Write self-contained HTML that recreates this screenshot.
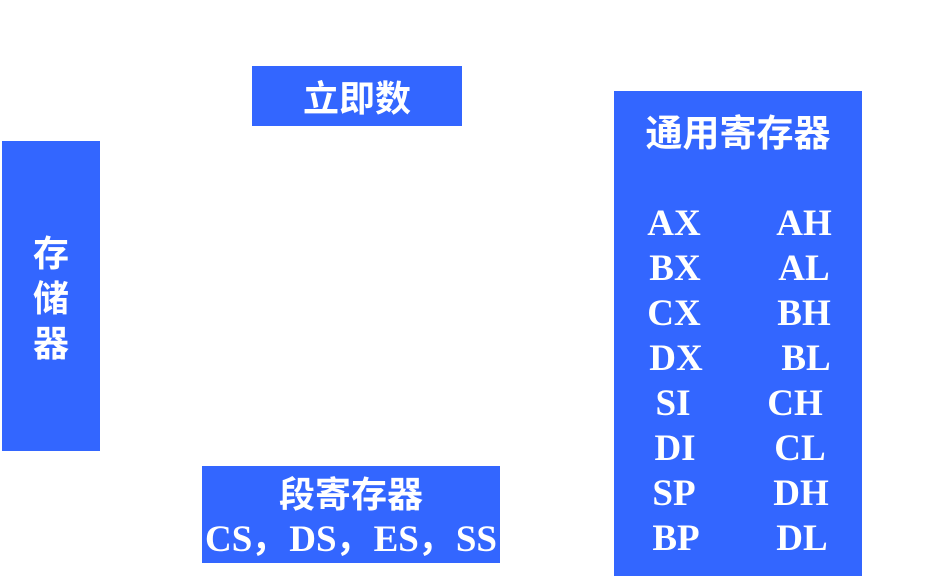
<!DOCTYPE html>
<html><head><meta charset="utf-8"><style>
html,body{margin:0;padding:0;background:#fff;}
svg{display:block;}
.c{font-family:"Liberation Sans","Noto Sans CJK SC","WenQuanYi Zen Hei",sans-serif;font-weight:bold;fill:#fff;}
.s{font-family:"Liberation Serif",serif;font-weight:bold;fill:#fff;font-size:37px;}
</style></head><body>
<svg width="941" height="579" viewBox="0 0 941 579" xmlns="http://www.w3.org/2000/svg">
<rect x="0" y="0" width="941" height="579" fill="#fff"/>
<rect x="252" y="66" width="210" height="60" fill="#3366ff"/>
<rect x="2" y="141" width="98" height="310" fill="#3366ff"/>
<rect x="614" y="91" width="248" height="485" fill="#3366ff"/>
<rect x="202" y="466" width="298" height="97" fill="#3366ff"/>
<text class="c" x="357" y="111" font-size="36" text-anchor="middle">立即数</text>
<text class="c" x="51" y="266" font-size="36" text-anchor="middle">存</text>
<text class="c" x="51" y="311" font-size="36" text-anchor="middle">储</text>
<text class="c" x="51" y="356" font-size="36" text-anchor="middle">器</text>
<text class="c" x="738" y="146" font-size="37" text-anchor="middle">通用寄存器</text>
<text class="c" x="351" y="507" font-size="36" text-anchor="middle">段寄存器</text>
<text class="s" x="351" y="551" text-anchor="middle">CS，DS，ES，SS</text>
<g text-anchor="middle">
<text class="s" x="674" y="235">AX</text><text class="s" x="804" y="235">AH</text>
<text class="s" x="675" y="280">BX</text><text class="s" x="804" y="280">AL</text>
<text class="s" x="674" y="325">CX</text><text class="s" x="804" y="325">BH</text>
<text class="s" x="676" y="370">DX</text><text class="s" x="806" y="370">BL</text>
<text class="s" x="673" y="415">SI</text><text class="s" x="795" y="415">CH</text>
<text class="s" x="675" y="460">DI</text><text class="s" x="800" y="460">CL</text>
<text class="s" x="674" y="505">SP</text><text class="s" x="801" y="505">DH</text>
<text class="s" x="676" y="550">BP</text><text class="s" x="802" y="550">DL</text>
</g>
</svg>
</body></html>
